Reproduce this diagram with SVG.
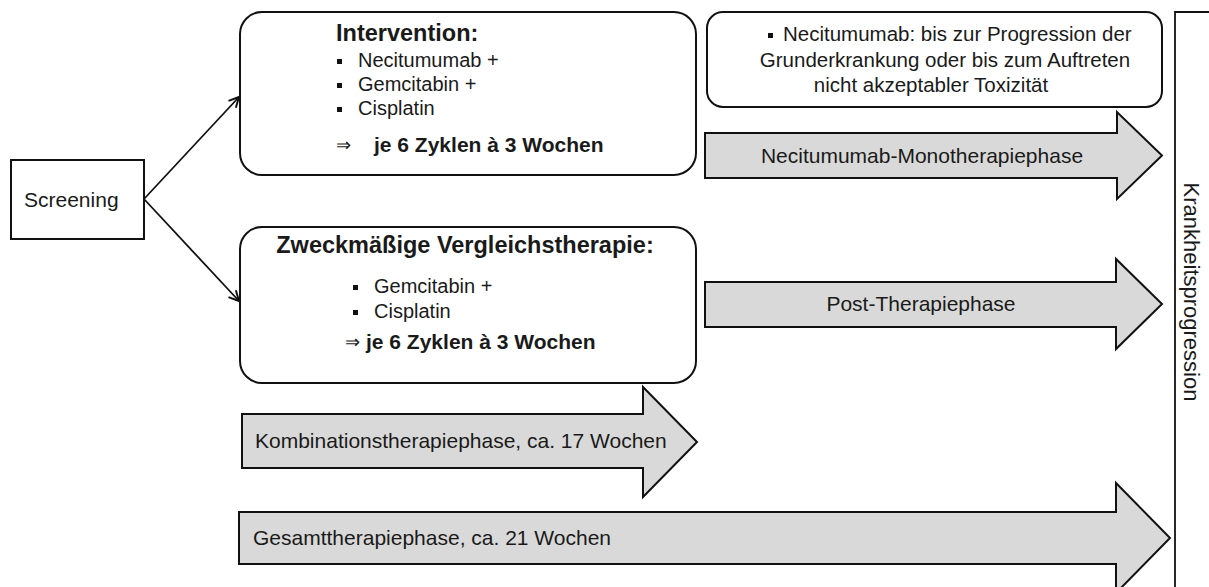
<svg xmlns="http://www.w3.org/2000/svg" width="1209" height="587" viewBox="0 0 1209 587">
<defs>
<style>
text{font-family:"Liberation Sans",Arial,sans-serif;fill:#1a1a1a}
.box{fill:#fff;stroke:#111;stroke-width:2}
.phase{fill:#d9d9d9;stroke:#111;stroke-width:2;stroke-linejoin:miter}
.t{font-size:21px}
.li{font-size:20px}
.b{font-weight:bold}
.h{font-size:23.5px;font-weight:bold}
.line{fill:none;stroke:#111;stroke-width:1.8}
.sq{fill:#111}
</style>
<marker id="arr" viewBox="0 0 12 12" refX="11" refY="6" markerWidth="12" markerHeight="12" markerUnits="userSpaceOnUse" orient="auto">
<path d="M1,1 L11,6 L1,11" fill="none" stroke="#111" stroke-width="2"/>
</marker>
</defs>
<rect width="1209" height="587" fill="#fff"/>

<g id="connectors">
<line class="line" x1="144" y1="199" x2="239" y2="97" marker-end="url(#arr)"/>
<line class="line" x1="144" y1="199" x2="239" y2="301" marker-end="url(#arr)"/>
</g>

<g id="screening">
<rect class="box" x="11" y="160" width="133" height="79"/>
<text class="t" x="24" y="207">Screening</text>
</g>

<g id="intervention">
<rect class="box" x="240" y="12" width="456" height="163" rx="22"/>
<text class="h" x="336" y="41">Intervention:</text>
<rect class="sq" x="337" y="59" width="5" height="5"/>
<text class="li" x="358" y="67">Necitumumab +</text>
<rect class="sq" x="337" y="83" width="5" height="5"/>
<text class="li" x="358" y="91">Gemcitabin +</text>
<rect class="sq" x="337" y="107" width="5" height="5"/>
<text class="li" x="358" y="115">Cisplatin</text>
<text x="336" y="151" font-size="18">⇒</text>
<text class="t b" x="374" y="152">je 6 Zyklen à 3 Wochen</text>
</g>

<g id="vergleich">
<rect class="box" x="240" y="227" width="456" height="156" rx="22"/>
<text class="h" x="465" y="253" text-anchor="middle">Zweckmäßige Vergleichstherapie:</text>
<rect class="sq" x="353" y="285" width="5" height="5"/>
<text class="li" x="374" y="293">Gemcitabin +</text>
<rect class="sq" x="353" y="310" width="5" height="5"/>
<text class="li" x="374" y="318">Cisplatin</text>
<text x="345" y="348" font-size="18">⇒</text>
<text class="t b" x="366" y="349">je 6 Zyklen à 3 Wochen</text>
</g>

<g id="mono-note">
<rect class="box" x="707" y="12" width="455" height="95" rx="16"/>
<rect class="sq" x="768" y="33" width="5" height="5"/>
<text x="783" y="41" font-size="20.5">Necitumumab: bis zur Progression der</text>
<text x="945" y="67" font-size="20.5" text-anchor="middle">Grunderkrankung oder bis zum Auftreten</text>
<text x="931" y="92" font-size="20.5" text-anchor="middle">nicht akzeptabler Toxizität</text>
</g>

<g id="mono-phase">
<polygon class="phase" points="705,133 1117,133 1117,112 1162,155.5 1117,199 1117,178 705,178"/>
<text class="t" x="922" y="163" text-anchor="middle">Necitumumab-Monotherapiephase</text>
</g>

<g id="post-phase">
<polygon class="phase" points="705,282 1116,282 1116,259 1162,304 1116,349 1116,327 705,327"/>
<text class="t" x="921" y="311" text-anchor="middle">Post-Therapiephase</text>
</g>

<g id="kombi-phase">
<polygon class="phase" points="242,414 643,414 643,387 697,442 643,497 643,468 242,468"/>
<text class="t" x="255" y="448">Kombinationstherapiephase, ca. 17 Wochen</text>
</g>

<g id="gesamt-phase">
<polygon class="phase" points="239,512 1116,512 1116,483 1170,538 1116,593 1116,564 239,564"/>
<text class="t" x="253" y="545">Gesamttherapiephase, ca. 21 Wochen</text>
</g>

<g id="progression">
<polyline class="line" points="1209,12 1175,12 1175,590"/>
<text x="1184" y="292" font-size="22" text-anchor="middle" transform="rotate(90 1184 292)">Krankheitsprogression</text>
</g>
</svg>
